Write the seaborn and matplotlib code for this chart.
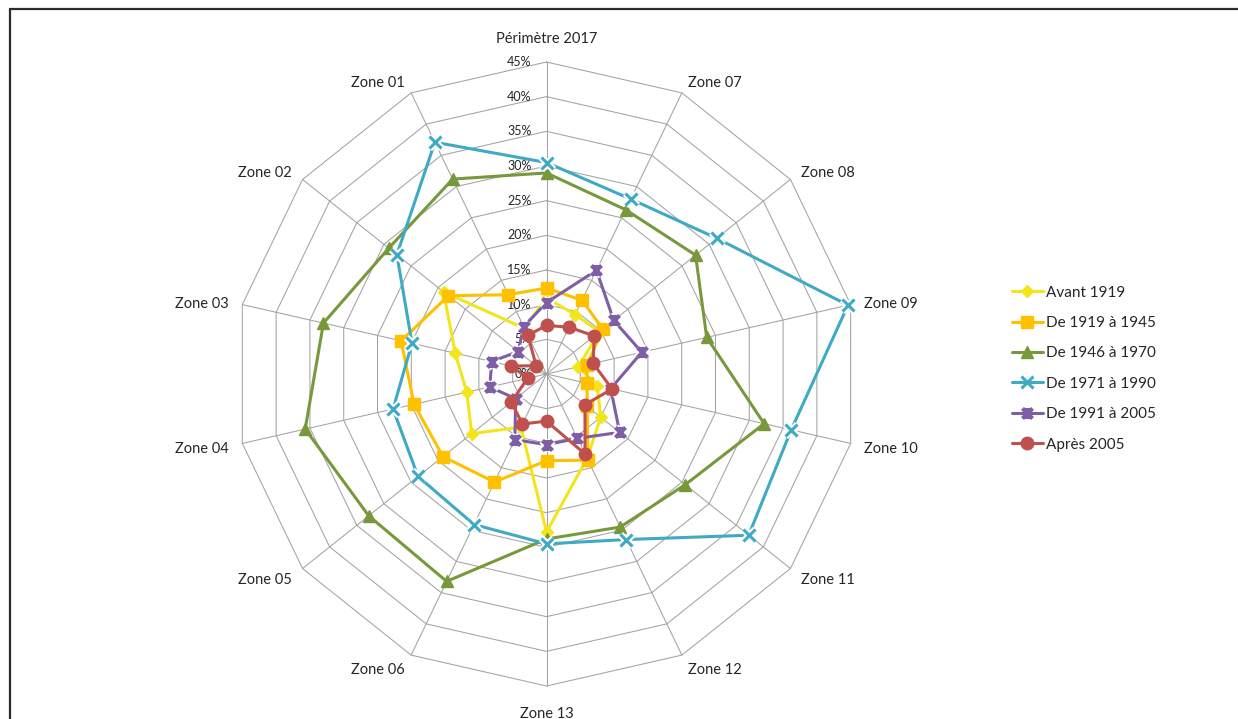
import numpy as np
import pandas as pd
import matplotlib
matplotlib.use("Agg")
import matplotlib.pyplot as plt
import seaborn as sns
from matplotlib.lines import Line2D
from matplotlib.path import Path
from matplotlib import transforms

# ---------------- data ----------------
categories = ["Périmètre 2017", "Zone 07", "Zone 08", "Zone 09", "Zone 10",
              "Zone 11", "Zone 12", "Zone 13", "Zone 06", "Zone 05",
              "Zone 04", "Zone 03", "Zone 02", "Zone 01"]

series_names = ["Avant 1919", "De 1919 à 1945", "De 1946 à 1970",
                "De 1971 à 1990", "De 1991 à 2005", "Après 2005"]

avant_1919   = [11.0, 9.5, 9.8, 4.7, 7.5, 10.0, 13.5, 22.8, 8.5, 13.8, 11.8, 13.5, 19.0, 7.3]
de_1919_1945 = [12.4, 11.8, 10.4, 6.0, 6.0, 7.5, 13.8, 12.5, 17.3, 19.1, 19.6, 21.5, 18.1, 12.7]
de_1946_1970 = [29.0, 26.3, 27.5, 23.7, 32.2, 25.6, 24.5, 23.8, 33.2, 32.8, 35.7, 33.0, 29.1, 31.2]
de_1971_1990 = [30.5, 28.0, 31.4, 44.6, 36.2, 37.3, 26.5, 24.5, 24.1, 23.7, 22.7, 19.9, 27.6, 37.1]
de_1991_2005 = [10.3, 16.6, 12.4, 14.1, 9.5, 13.5, 10.3, 10.2, 10.5, 5.7, 8.4, 8.1, 5.2, 7.6]
apres_2005   = [7.0, 7.5, 8.8, 6.9, 9.7, 7.1, 12.8, 6.8, 8.0, 6.5, 2.8, 5.2, 1.9, 6.2]

radial_ticks = [0, 5, 10, 15, 20, 25, 30, 35, 40, 45]
radial_labels = ["0%", "5%", "10%", "15%", "20%", "25%", "30%", "35%", "40%", "45%"]

values = [avant_1919, de_1919_1945, de_1946_1970, de_1971_1990, de_1991_2005, apres_2005]

# ---------------- style ----------------
colors = ["#F2E51C", "#FFC000", "#77993C", "#3FAAC4", "#7E5FA6", "#C0504D"]

star = Path([(-1, -1), (1, 1), (-1, 1), (1, -1), (0, -1.1), (0, 1.1)],
            [Path.MOVETO, Path.LINETO, Path.MOVETO, Path.LINETO, Path.MOVETO, Path.LINETO])
markers = ["D", "s", "^", "x", star, "o"]
msizes = [6, 8.5, 8.5, 8, 8, 9]

sns.set_style("white")
plt.rcParams["font.family"] = ["Lato", "DejaVu Sans"]

fig = plt.figure(figsize=(12.38, 7.19), dpi=100)
ax = fig.add_axes([0.18942, 0.0459, 0.50404, 0.86787], projection="polar")
ax.set_theta_zero_location("N")
ax.set_theta_direction(-1)
ax.set_ylim(0, 45)
ax.set_axis_off()

n = len(categories)
theta = np.linspace(0, 2 * np.pi, n, endpoint=False)
theta_c = np.append(theta, 2 * np.pi)

# polygonal grid
grid_col = "#A3A3A3"
for v in radial_ticks[1:]:
    ax.plot(theta_c, [v] * (n + 1), color=grid_col, lw=0.75, zorder=1, clip_on=False)
for t in theta:
    ax.plot([t, t], [0, radial_ticks[-1]], color=grid_col, lw=0.75, zorder=1, clip_on=False)

# radial tick labels (left of top spoke)
off = transforms.offset_copy(ax.transData, fig=fig, x=-15, y=0, units="dots")
for v, lab in zip(radial_ticks, radial_labels):
    ax.text(0, v, lab, transform=off, ha="right", va="center", fontsize=9, color="#262626")

# category labels
off_lab = transforms.offset_copy(ax.transData, fig=fig, x=0, y=-2.5, units="dots")
for t, lab in zip(theta, categories):
    s = np.sin(t)
    if abs(s) < 0.1:
        ax.text(t, 48.7, lab, transform=off_lab, ha="center", va="center",
                fontsize=10.5, color="#262626")
    else:
        ax.text(t, 47.0, lab, transform=off_lab, ha="left" if s > 0 else "right",
                va="center", fontsize=10.5, color="#262626")

# series
handles = []
for i, (name, vals) in enumerate(zip(series_names, values)):
    df = pd.DataFrame({"theta": theta_c, "value": list(vals) + [vals[0]]})
    z = 3 + i * 3
    col = colors[i]
    if i in (3, 4):
        sns.lineplot(data=df, x="theta", y="value", sort=False, estimator=None,
                     color=col, lw=2.2, ax=ax, zorder=z, clip_on=False)
        mew = 2.2 if i == 3 else 3.0
        ax.plot(theta, vals, ls="none", marker=markers[i], ms=msizes[i],
                mew=mew + 3, color="white", zorder=z + 1, clip_on=False)
        ax.plot(theta, vals, ls="none", marker=markers[i], ms=msizes[i],
                mew=mew, color=col, mfc="none", zorder=z + 2, clip_on=False)
        handles.append(Line2D([], [], color=col, lw=2.2, marker=markers[i],
                              ms=msizes[i], mew=mew, mfc="none"))
    else:
        sns.lineplot(data=df, x="theta", y="value", sort=False, estimator=None,
                     color=col, lw=2.2, ax=ax, zorder=z, clip_on=False)
        ax.plot(theta, vals, ls="none", marker=markers[i], ms=msizes[i],
                color=col, mec=col, zorder=z + 1, clip_on=False)
        handles.append(Line2D([], [], color=col, lw=2.2, marker=markers[i],
                              ms=msizes[i], mec=col))

ax.set_xlabel("")
ax.set_ylabel("")

leg = fig.legend(handles, series_names, loc="upper left",
                 bbox_to_anchor=(0.8175, 0.6025), bbox_transform=fig.transFigure,
                 frameon=False, fontsize=11, handlelength=2.0, handletextpad=0.2,
                 labelspacing=1.07, borderpad=0, borderaxespad=0)
for txt in leg.get_texts():
    txt.set_color("#262626")

# outer frame (top and left edges visible)
fig.add_artist(Line2D([9.5 / 1238, 1.0], [1 - 9 / 719, 1 - 9 / 719],
                      transform=fig.transFigure, color="#2B2B2B", lw=1.6))
fig.add_artist(Line2D([9.5 / 1238, 9.5 / 1238], [0, 1 - 9 / 719],
                      transform=fig.transFigure, color="#2B2B2B", lw=1.6))

fig.savefig("out.png", dpi=100)
